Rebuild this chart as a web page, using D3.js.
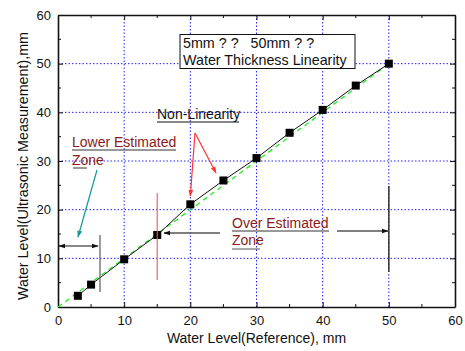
<!DOCTYPE html>
<html><head><meta charset="utf-8">
<script src="https://cdn.jsdelivr.net/npm/d3@7"></script>
<style>body{margin:0;background:#fff}svg{display:block;font-family:"Liberation Sans",Arial,sans-serif}</style>
</head><body>
<svg id="c" width="465" height="351"></svg>
<script>
const refLevels = [3, 5, 10, 15, 20, 25, 30, 35, 40, 45, 50];
const measured  = [2.3, 4.6, 9.8, 14.8, 21.1, 26.0, 30.6, 35.8, 40.5, 45.5, 50.0];
const idealLine = [[0, 0], [50, 50]];
const xTicks = [0, 10, 20, 30, 40, 50, 60];
const yTicks = [0, 10, 20, 30, 40, 50, 60];
const minorTicks = [5, 15, 25, 35, 45, 55];
const titleLines = ["5mm ? ?   50mm ? ?", "Water Thickness Linearity"];

const svg = d3.select("#c");
const L = 58, R = 455, T = 15, B = 307;
const x = d3.scaleLinear().domain([0, 60]).range([L, R]);
const y = d3.scaleLinear().domain([0, 60]).range([B, T]);

// grid
const g = svg.append("g");
[10,20,30,40,50].forEach(v => {
  g.append("line").attr("x1", x(v)).attr("x2", x(v)).attr("y1", T).attr("y2", B)
   .attr("stroke", "#2222ff").attr("stroke-width", 1).attr("stroke-dasharray", "1.5,2");
  g.append("line").attr("y1", y(v)).attr("y2", y(v)).attr("x1", L).attr("x2", R)
   .attr("stroke", "#2222ff").attr("stroke-width", 1).attr("stroke-dasharray", "1.5,2");
});

// axes
const fs = 13;
const axB = svg.append("g").attr("transform", `translate(0,${B})`)
  .call(d3.axisBottom(x).tickValues(xTicks).tickSizeInner(-5).tickSizeOuter(0).tickPadding(9));
const axL = svg.append("g").attr("transform", `translate(${L},0)`)
  .call(d3.axisLeft(y).tickValues(yTicks).tickSizeInner(-5).tickSizeOuter(0).tickPadding(7));
const axT = svg.append("g").attr("transform", `translate(0,${T})`)
  .call(d3.axisTop(x).tickValues(xTicks).tickSizeInner(-5).tickSizeOuter(0).tickFormat(""));
const axR = svg.append("g").attr("transform", `translate(${R},0)`)
  .call(d3.axisRight(y).tickValues(yTicks).tickSizeInner(-5).tickSizeOuter(0).tickFormat(""));
[axB, axL, axT, axR].forEach(a => {
  a.selectAll("text").attr("font-size", fs).attr("fill", "#111").attr("font-family", "Liberation Sans, Arial, sans-serif");
  a.selectAll("line").attr("stroke", "#111");
  a.select(".domain").attr("stroke", "#111").attr("stroke-width", 1.6);
});
// minor ticks
minorTicks.forEach(v => {
  svg.append("line").attr("x1", x(v)).attr("x2", x(v)).attr("y1", B).attr("y2", B - 3).attr("stroke", "#111");
  svg.append("line").attr("x1", x(v)).attr("x2", x(v)).attr("y1", T).attr("y2", T + 3).attr("stroke", "#111");
  svg.append("line").attr("y1", y(v)).attr("y2", y(v)).attr("x1", L).attr("x2", L + 3).attr("stroke", "#111");
  svg.append("line").attr("y1", y(v)).attr("y2", y(v)).attr("x1", R).attr("x2", R - 3).attr("stroke", "#111");
});

// axis titles
svg.append("text").attr("x", (L + R) / 2).attr("y", 343).attr("text-anchor", "middle")
  .attr("font-size", 14).attr("fill", "#111").text("Water Level(Reference), mm");
svg.append("text").attr("transform", `translate(28,166) rotate(-90)`).attr("text-anchor", "middle")
  .attr("font-size", 14.3).attr("fill", "#111").text("Water Level(Ultrasonic Measurement),mm");

// defs markers
const defs = svg.append("defs");
function marker(id, color) {
  defs.append("marker").attr("id", id).attr("viewBox", "0 0 10 10").attr("refX", 9).attr("refY", 5)
    .attr("markerWidth", 7).attr("markerHeight", 7).attr("markerUnits", "userSpaceOnUse").attr("orient", "auto")
    .append("path").attr("d", "M0,1.5 L10,5 L0,8.5 Z").attr("fill", color);
}
marker("mRed", "#ff3333"); marker("mTeal", "#119999"); marker("mBlack", "#111"); marker("mGray", "#444");
defs.append("marker").attr("id", "mBlackS").attr("viewBox", "0 0 10 10").attr("refX", 1).attr("refY", 5)
  .attr("markerWidth", 7).attr("markerHeight", 7).attr("markerUnits", "userSpaceOnUse").attr("orient", "auto")
  .append("path").attr("d", "M10,1.5 L0,5 L10,8.5 Z").attr("fill", "#111");

// ideal line
const line = d3.line().x(d => x(d[0])).y(d => y(d[1]));
svg.append("path").datum(idealLine).attr("d", line).attr("fill", "none")
  .attr("stroke", "#22ee22").attr("stroke-width", 1.3).attr("stroke-dasharray", "5,4");
// measured line
const pts = refLevels.map((r, i) => [r, measured[i]]);
svg.append("path").datum(pts).attr("d", line).attr("fill", "none").attr("stroke", "#111").attr("stroke-width", 1);
svg.selectAll("rect.pt").data(pts).enter().append("rect").attr("class", "pt")
  .attr("x", d => x(d[0]) - 4).attr("y", d => y(d[1]) - 4).attr("width", 8).attr("height", 8).attr("fill", "#000");

// title box
svg.append("rect").attr("x", 180).attr("y", 34.5).attr("width", 175).attr("height", 34)
  .attr("fill", "#fff").attr("stroke", "#111").attr("stroke-width", 1);
titleLines.forEach((t, i) => svg.append("text").attr("x", 183).attr("y", 48 + i * 17)
  .attr("font-size", 14.3).attr("fill", "#111").attr("xml:space", "preserve").style("white-space", "pre").text(t));

// Non-Linearity
svg.append("text").attr("x", 157).attr("y", 119).attr("font-size", 14).attr("fill", "#111").text("Non-Linearity");
svg.append("line").attr("x1", 157).attr("x2", 239).attr("y1", 122).attr("y2", 122).attr("stroke", "#111");
svg.append("line").attr("x1", 195).attr("y1", 133).attr("x2", x(20)).attr("y2", 196)
  .attr("stroke", "#ff3333").attr("stroke-width", 1.2).attr("marker-end", "url(#mRed)");
svg.append("line").attr("x1", 195).attr("y1", 133).attr("x2", 216).attr("y2", 173)
  .attr("stroke", "#ff3333").attr("stroke-width", 1.2).attr("marker-end", "url(#mRed)");

// Lower Estimated Zone
const dark = "#8b1a1a";
svg.append("text").attr("x", 72).attr("y", 147).attr("font-size", 14).attr("fill", dark).text("Lower Estimated");
svg.append("text").attr("x", 72).attr("y", 165).attr("font-size", 14).attr("fill", dark).text("Zone");
svg.append("line").attr("x1", 72).attr("x2", 176).attr("y1", 150).attr("y2", 150).attr("stroke", "#333");
svg.append("line").attr("x1", 73).attr("x2", 87).attr("y1", 168).attr("y2", 168).attr("stroke", "#333");
svg.append("line").attr("x1", 97).attr("y1", 170).attr("x2", 78).attr("y2", 237)
  .attr("stroke", "#119999").attr("stroke-width", 1.2).attr("marker-end", "url(#mTeal)");
svg.append("line").attr("x1", 59).attr("y1", 246).attr("x2", 98).attr("y2", 246)
  .attr("stroke", "#111").attr("stroke-width", 1).attr("marker-end", "url(#mBlack)").attr("marker-start", "url(#mBlackS)");
svg.append("line").attr("x1", 100).attr("y1", 235).attr("x2", 100).attr("y2", 292)
  .attr("stroke", "#666").attr("stroke-width", 1.3);

// red vertical at 15
svg.append("line").attr("x1", x(15)).attr("y1", 193).attr("x2", x(15)).attr("y2", 280)
  .attr("stroke", "#ff5555").attr("stroke-width", 1.3).attr("opacity", 0.85);
svg.append("line").attr("x1", 220).attr("y1", 233).attr("x2", 164).attr("y2", 233)
  .attr("stroke", "#555").attr("stroke-width", 1.5).attr("marker-end", "url(#mBlack)");

// Over Estimated Zone
svg.append("text").attr("x", 232).attr("y", 228).attr("font-size", 14).attr("fill", dark).text("Over Estimated");
svg.append("text").attr("x", 232).attr("y", 245).attr("font-size", 14).attr("fill", dark).text("Zone");
svg.append("line").attr("x1", 232).attr("x2", 329).attr("y1", 231).attr("y2", 231).attr("stroke", "#333");
svg.append("line").attr("x1", 232).attr("x2", 260).attr("y1", 249).attr("y2", 249).attr("stroke", "#555");
svg.append("line").attr("x1", 337).attr("y1", 231).attr("x2", 388).attr("y2", 231)
  .attr("stroke", "#555").attr("stroke-width", 1.5).attr("marker-end", "url(#mBlack)");
svg.append("line").attr("x1", x(50)).attr("y1", 186).attr("x2", x(50)).attr("y2", 272)
  .attr("stroke", "#333").attr("stroke-width", 1.5);
</script>
</body></html>
